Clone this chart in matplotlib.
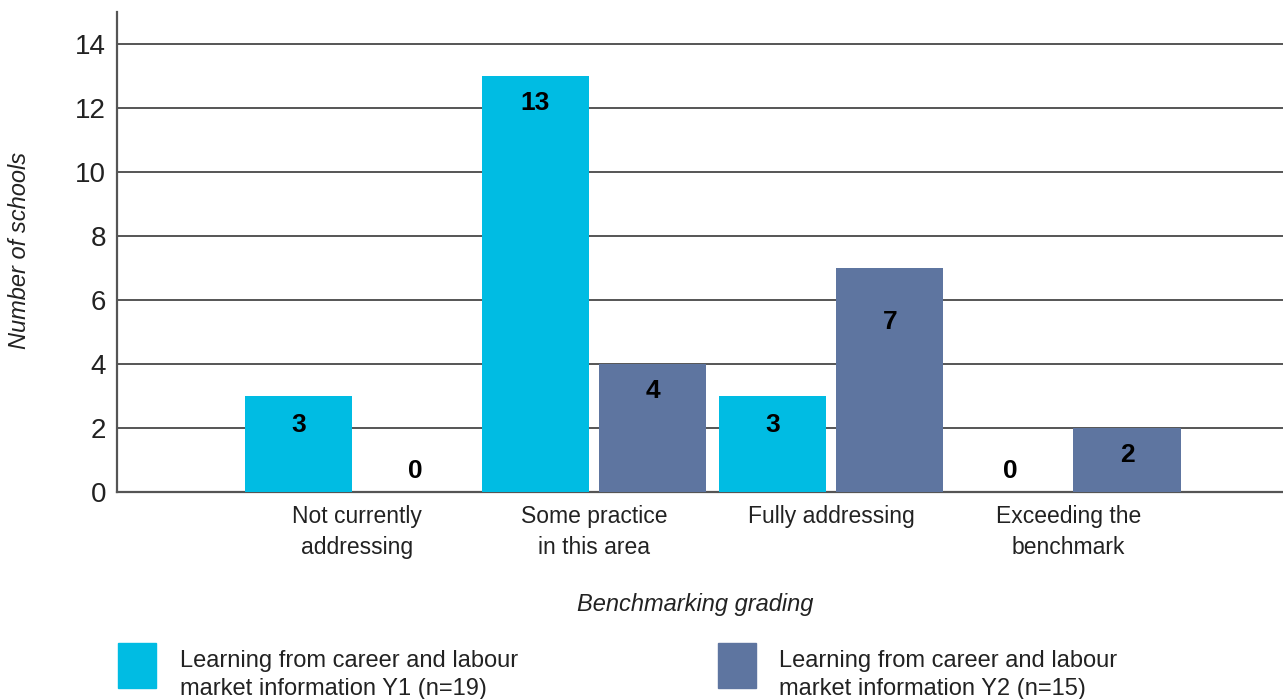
import matplotlib.pyplot as plt
from matplotlib.patches import Rectangle

categories = ['Not currently\naddressing', 'Some practice\nin this area', 'Fully addressing', 'Exceeding the\nbenchmark']
y1 = [3, 13, 3, 0]
y2 = [0, 4, 7, 2]
labels = ['Learning from career and labour\nmarket information Y1 (n=19)',
          'Learning from career and labour\nmarket information Y2 (n=15)']
colors = ['#00BCE3', '#5E75A0']

plt.rcParams['font.family'] = ['Liberation Sans', 'DejaVu Sans']

fig = plt.figure(figsize=(12.83, 6.99), dpi=100)
ax = fig.add_axes([117 / 1283, 1 - 492 / 699, 1 - 117 / 1283, 480 / 699])

x = [1, 2, 3, 4]
w = 0.452
off = 0.247
ax.bar([i - off for i in x], y1, width=w, color=colors[0], zorder=3)
ax.bar([i + off for i in x], y2, width=w, color=colors[1], zorder=3)

# how far below the bar top each label sits (the 7 sits lower in the original)
drop1 = [0.9, 0.85, 0.9, 0]
drop2 = [0, 0.85, 1.7, 0.85]
for i, v, d in zip(x, y1, drop1):
    ax.text(i - off, v - d if v > 0 else 0.65, str(v), ha='center', va='center',
            fontsize=19, fontweight='bold', zorder=4)
for i, v, d in zip(x, y2, drop2):
    ax.text(i + off, v - d if v > 0 else 0.65, str(v), ha='center', va='center',
            fontsize=19, fontweight='bold', zorder=4)

ax.set_xlim(-0.012, 4.905)
ax.set_ylim(0, 15)
ax.set_yticks(range(0, 15, 2))
ax.set_xticks(x)
ax.set_xticklabels(categories, fontsize=16.5, color='#222222', linespacing=1.45)
ax.tick_params(axis='x', length=0, pad=9)
ax.tick_params(axis='y', length=0, pad=8, labelsize=20, labelcolor='#222222')
ax.grid(axis='y', color='#555555', lw=1.4, zorder=1)
ax.set_axisbelow(True)
for s in ['top', 'right']:
    ax.spines[s].set_visible(False)
for s in ['left', 'bottom']:
    ax.spines[s].set_color('#555555')
    ax.spines[s].set_linewidth(1.6)

fig.text(20 / 1283, 1 - 250 / 699, 'Number of schools', rotation=90, ha='center', va='center',
         fontsize=17, style='italic', color='#222222')
fig.text(695 / 1283, 1 - 604 / 699, 'Benchmarking grading', ha='center', va='center',
         fontsize=17, style='italic', color='#222222')

# legend
for lx, tx, c, lab in [(118, 180, colors[0], labels[0]), (718, 779, colors[1], labels[1])]:
    fig.patches.append(Rectangle((lx / 1283, 1 - 688 / 699), 38 / 1283, 45 / 699,
                                 transform=fig.transFigure, color=c))
    fig.text(tx / 1283, 1 - 675 / 699, lab, ha='left', va='center', fontsize=17,
             color='#222222', linespacing=1.32)

fig.savefig('out.png', dpi=100)
